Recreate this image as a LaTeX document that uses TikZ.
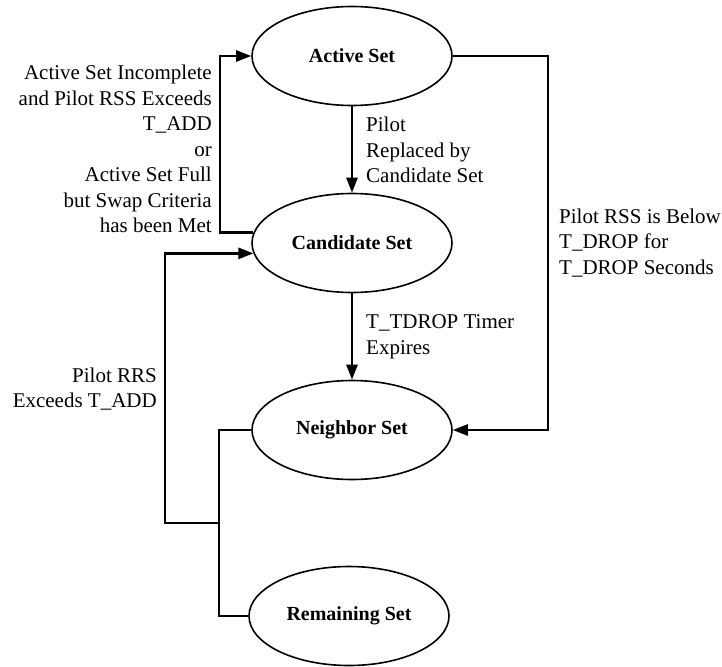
\documentclass[tikz,border=0pt]{standalone}
\usepackage{fontspec}
\setmainfont{Liberation Serif}
\usetikzlibrary{shapes.geometric,arrows.meta}

\tikzset{
  setnode/.style={draw, ellipse, line width=1.6pt, minimum width=200pt,
    minimum height=99pt, inner sep=0pt,
    font=\fontsize{20}{24}\selectfont\bfseries},
  link/.style={line width=2.6pt, line join=miter},
  arr/.style={link, -{Triangle[length=15pt,width=11pt]}},
  lbl/.style={inner sep=0pt, font=\fontsize{21}{25.5}\selectfont}
}

\begin{document}
\begin{tikzpicture}[x=1pt, y=-1pt]
  \useasboundingbox (0,0) rectangle (722,666);

  % states
  \node[setnode] (A) at (352,56)  {Active Set};
  \node[setnode] (C) at (352,243) {Candidate Set};
  \node[setnode] (N) at (352,430) {Neighbor Set};
  \node[setnode] (R) at (349,616) {Remaining Set};

  % routing columns for the side connectors
  \coordinate (rx) at (548,0);
  \coordinate (lx) at (220,0);
  \coordinate (bx) at (219,0);
  \coordinate (fx) at (165,0);
  \coordinate (jn) at (219,523);

  % straight transitions
  \draw[arr] (A) -- (C);
  \draw[arr] (C) -- (N);

  % active -> neighbor (right loop)
  \draw[arr] (A.east) -- (A.east -| rx) -- (N.east -| rx) -- (N.east);

  % candidate -> active (upper left loop)
  \draw[arr] (C.174) -- (C.174 -| lx) -- (A.west -| lx) -- (A.west);

  % neighbor / remaining -> candidate (lower left loop)
  \draw[link] (N.west) -- (N.west -| bx) -- (R.west -| bx) -- (R.west);
  \draw[arr] (jn) -- (jn -| fx) -- (C.186 -| fx) -- (C.186);

  % transition labels
  \node[lbl, align=right, anchor=east] (l1) at (212,149)
    {Active Set Incomplete\\and Pilot RSS Exceeds\\T\_ADD\\or\\Active Set Full\\but Swap Criteria\\has been Met};
  \node[lbl, align=left, anchor=west] (l2) at (366,150)
    {Pilot\\Replaced by\\Candidate Set};
  \node[lbl, align=left, anchor=west] (l3) at (559,243)
    {Pilot RSS is Below\\T\_DROP for\\T\_DROP Seconds};
  \node[lbl, align=left, anchor=west] (l4) at (366,337)
    {T\_TDROP Timer\\Expires};
  \node[lbl, align=right, anchor=east] (l5) at (157,389)
    {Pilot RRS\\Exceeds T\_ADD};
\end{tikzpicture}
\end{document}
